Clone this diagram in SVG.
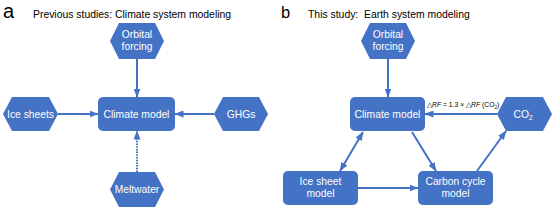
<svg xmlns="http://www.w3.org/2000/svg" width="554" height="209" viewBox="0 0 554 209">
<style>
.node{fill:#4472C4}
.lbl{font-family:"Liberation Sans",Arial,sans-serif;font-size:10.3px;fill:#fff;text-anchor:middle}
.ttl{font-family:"Liberation Sans",Arial,sans-serif;font-size:10.4px;fill:#000}
.pl{font-family:"Liberation Sans",Arial,sans-serif;fill:#000}
.c{stroke:#4472C4;stroke-width:2;fill:none}
.dot{stroke-dasharray:1.5 1.2}
</style>
<defs>
<marker id="ah" viewBox="0 0 9 7" refX="8.5" refY="3.5" markerWidth="9" markerHeight="7" markerUnits="userSpaceOnUse" orient="auto-start-reverse">
<path d="M0,0 L9,3.5 L0,7 z" fill="#4472C4"/>
</marker>
</defs>
<text class="pl" x="3" y="18" font-size="20">a</text>
<text class="ttl" x="33" y="18">Previous studies: Climate system modeling</text>
<text class="pl" x="281" y="18" font-size="16.5">b</text>
<text class="ttl" x="308" y="18" xml:space="preserve">This study:  Earth system modeling</text>
<g id="connectors">
<line class="c" x1="137" y1="59" x2="137" y2="97" marker-end="url(#ah)"/>
<line class="c" x1="58" y1="114" x2="98" y2="114" marker-end="url(#ah)"/>
<line class="c" x1="214" y1="114" x2="175" y2="114" marker-end="url(#ah)"/>
<line class="c dot" x1="137" y1="172" x2="137" y2="131" marker-end="url(#ah)"/>
<line class="c" x1="388" y1="59" x2="388" y2="97" marker-end="url(#ah)"/>
<line class="c" x1="497" y1="114" x2="425" y2="114" marker-end="url(#ah)"/>
<line class="c" x1="363" y1="132" x2="340" y2="171" marker-start="url(#ah)" marker-end="url(#ah)"/>
<line class="c" x1="412" y1="132" x2="436" y2="171" marker-end="url(#ah)"/>
<line class="c" x1="477" y1="171" x2="506" y2="131" marker-end="url(#ah)"/>
<line class="c" x1="358" y1="188" x2="418" y2="188" marker-end="url(#ah)"/>
<text x="427" y="107" font-family="'Liberation Sans',Arial,sans-serif" font-size="6.8" fill="#000">△<tspan font-style="italic">RF</tspan> = 1.3 × △<tspan font-style="italic">RF</tspan> (CO<tspan font-size="4.7" dy="1.5">2</tspan><tspan dy="-1.5">)</tspan></text>
</g>
<g id="a-orbital">
<polygon class="node" points="110,41 119,23 155,23 164,41 155,59 119,59"/>
<text class="lbl" x="137" y="38">Orbital</text>
<text class="lbl" x="137" y="50">forcing</text>
</g>
<g id="a-climate">
<rect class="node" x="98" y="97" width="77" height="34" rx="5"/>
<text class="lbl" x="136.5" y="117.7">Climate model</text>
</g>
<g id="a-icesheets">
<polygon class="node" points="3,114 12,97 49,97 58,114 49,131 12,131"/>
<text class="lbl" x="30.5" y="117.7">Ice sheets</text>
</g>
<g id="a-ghgs">
<polygon class="node" points="214,114 223,97 259,97 268,114 259,131 223,131"/>
<text class="lbl" x="241" y="117.7">GHGs</text>
</g>
<g id="a-meltwater">
<polygon class="node" points="110,189.5 119,172 155,172 164,189.5 155,207 119,207"/>
<text class="lbl" x="137" y="193.2">Meltwater</text>
</g>
<g id="b-orbital">
<polygon class="node" points="361,41 370,23 406,23 415,41 406,59 370,59"/>
<text class="lbl" x="388" y="38">Orbital</text>
<text class="lbl" x="388" y="50">forcing</text>
</g>
<g id="b-climate">
<rect class="node" x="350" y="97" width="75" height="34" rx="5"/>
<text class="lbl" x="387.5" y="117.7">Climate model</text>
</g>
<g id="b-co2">
<polygon class="node" points="497,114 506,97 543,97 552,114 543,131 506,131"/>
<text class="lbl" x="523" y="117.7">CO<tspan font-size="6.5" dy="2">2</tspan></text>
</g>
<g id="b-icesheet">
<rect class="node" x="283" y="171" width="75" height="34" rx="5"/>
<text class="lbl" x="320.5" y="185">Ice sheet</text>
<text class="lbl" x="320.5" y="197">model</text>
</g>
<g id="b-carbon">
<rect class="node" x="418" y="171" width="75" height="34" rx="5"/>
<text class="lbl" x="455.5" y="185">Carbon cycle</text>
<text class="lbl" x="455.5" y="197">model</text>
</g>
</svg>
